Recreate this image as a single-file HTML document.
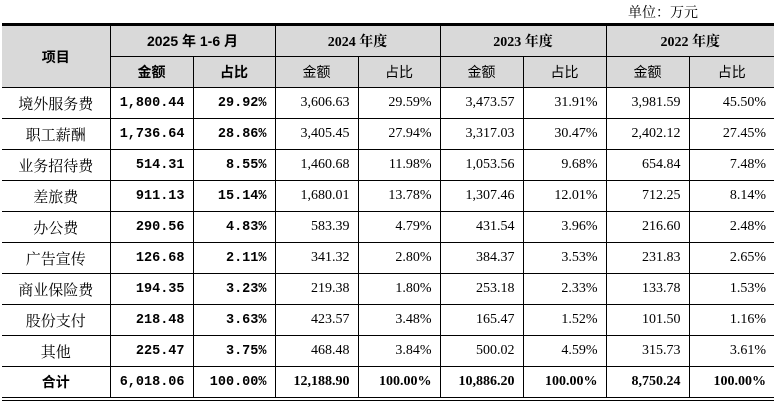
<!DOCTYPE html>
<html><head><meta charset="utf-8"><style>
body{margin:0;background:#fff;width:776px;height:406px;overflow:hidden;position:relative;font-family:"Liberation Serif","Noto Serif CJK SC",serif;}
.unit{position:absolute;left:628px;top:2px;font-size:14px;font-family:"Noto Serif CJK SC",serif;color:#000;}
table{position:absolute;left:2px;top:23px;width:772px;border-collapse:collapse;table-layout:fixed;border-top:3px solid #000;border-bottom:4px double #000;}
td{border:1px solid #000;padding:0 8px;font-size:14px;height:30px;white-space:nowrap;}
tr td:first-child{border-left:none}
tr td:last-child{border-right:none}
.h td{background:#d9d9d9;text-align:center;font-weight:bold;font-family:"Liberation Sans","Noto Sans CJK SC",sans-serif;font-size:14px;}
.h2 td{background:#d9d9d9;text-align:center;font-family:"Noto Sans CJK SC",sans-serif;font-size:14px;}
td.n{text-align:right;}
td.b{font-weight:bold;font-family:"Liberation Mono","Noto Sans CJK SC",monospace;text-align:right;font-size:13.5px;}
td.c{text-align:center;font-family:"Noto Serif CJK SC",serif;font-size:15px;}
tr.t td{font-weight:bold;}
</style></head><body>
<div class="unit">单位：万元</div>
<table>
<colgroup><col style="width:108px"><col style="width:83px"><col style="width:82px"><col style="width:83px"><col style="width:82px"><col style="width:83px"><col style="width:83px"><col style="width:83px"><col style="width:85px"></colgroup>
<tr class="h" style="height:31px"><td rowspan="2" style="font-family:'Noto Sans CJK SC',sans-serif">项目</td><td colspan="2">2025 年 1-6 月</td><td colspan="2" style="font-family:'Liberation Serif','Noto Serif CJK SC',serif">2024 年度</td><td colspan="2" style="font-family:'Liberation Serif','Noto Serif CJK SC',serif">2023 年度</td><td colspan="2" style="font-family:'Liberation Serif','Noto Serif CJK SC',serif">2022 年度</td></tr>
<tr class="h2" style="height:31px"><td style="font-weight:bold">金额</td><td style="font-weight:bold">占比</td><td>金额</td><td>占比</td><td>金额</td><td>占比</td><td>金额</td><td>占比</td></tr>
<tr><td class="c">境外服务费</td><td class="b">1,800.44</td><td class="b">29.92%</td><td class="n">3,606.63</td><td class="n">29.59%</td><td class="n">3,473.57</td><td class="n">31.91%</td><td class="n">3,981.59</td><td class="n">45.50%</td></tr>
<tr><td class="c">职工薪酬</td><td class="b">1,736.64</td><td class="b">28.86%</td><td class="n">3,405.45</td><td class="n">27.94%</td><td class="n">3,317.03</td><td class="n">30.47%</td><td class="n">2,402.12</td><td class="n">27.45%</td></tr>
<tr><td class="c">业务招待费</td><td class="b">514.31</td><td class="b">8.55%</td><td class="n">1,460.68</td><td class="n">11.98%</td><td class="n">1,053.56</td><td class="n">9.68%</td><td class="n">654.84</td><td class="n">7.48%</td></tr>
<tr><td class="c">差旅费</td><td class="b">911.13</td><td class="b">15.14%</td><td class="n">1,680.01</td><td class="n">13.78%</td><td class="n">1,307.46</td><td class="n">12.01%</td><td class="n">712.25</td><td class="n">8.14%</td></tr>
<tr><td class="c">办公费</td><td class="b">290.56</td><td class="b">4.83%</td><td class="n">583.39</td><td class="n">4.79%</td><td class="n">431.54</td><td class="n">3.96%</td><td class="n">216.60</td><td class="n">2.48%</td></tr>
<tr><td class="c">广告宣传</td><td class="b">126.68</td><td class="b">2.11%</td><td class="n">341.32</td><td class="n">2.80%</td><td class="n">384.37</td><td class="n">3.53%</td><td class="n">231.83</td><td class="n">2.65%</td></tr>
<tr><td class="c">商业保险费</td><td class="b">194.35</td><td class="b">3.23%</td><td class="n">219.38</td><td class="n">1.80%</td><td class="n">253.18</td><td class="n">2.33%</td><td class="n">133.78</td><td class="n">1.53%</td></tr>
<tr><td class="c">股份支付</td><td class="b">218.48</td><td class="b">3.63%</td><td class="n">423.57</td><td class="n">3.48%</td><td class="n">165.47</td><td class="n">1.52%</td><td class="n">101.50</td><td class="n">1.16%</td></tr>
<tr><td class="c">其他</td><td class="b">225.47</td><td class="b">3.75%</td><td class="n">468.48</td><td class="n">3.84%</td><td class="n">500.02</td><td class="n">4.59%</td><td class="n">315.73</td><td class="n">3.61%</td></tr>
<tr class="t"><td class="c" style="font-family:'Noto Sans CJK SC',sans-serif;font-size:14px">合计</td><td class="b">6,018.06</td><td class="b">100.00%</td><td class="n">12,188.90</td><td class="n">100.00%</td><td class="n">10,886.20</td><td class="n">100.00%</td><td class="n">8,750.24</td><td class="n">100.00%</td></tr>
</table>
</body></html>
